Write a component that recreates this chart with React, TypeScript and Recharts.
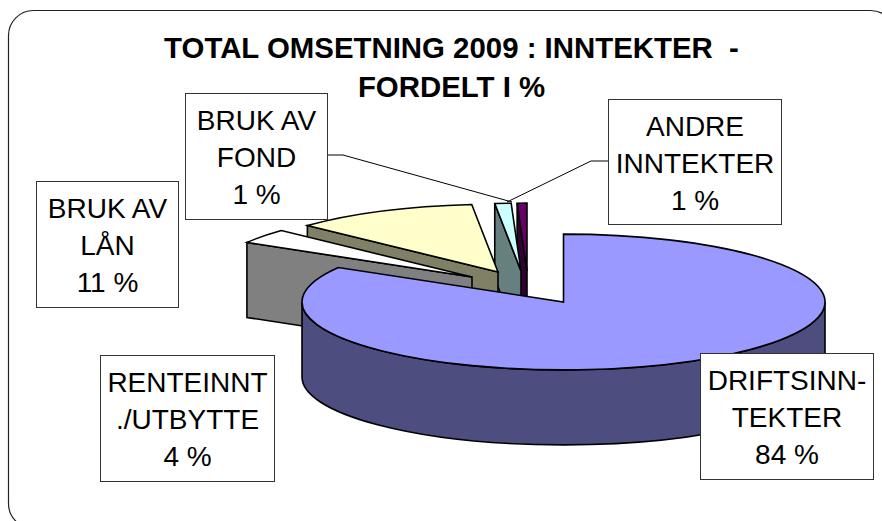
import React from 'react';
import { PieChart, Pie } from 'recharts';

// Drawn back-to-front: the pie runs counter-clockwise from 12 o'clock.
const categories = ['ANDRE INNTEKTER', 'BRUK AV FOND', 'BRUK AV LÅN', 'RENTEINNT ./UTBYTTE', 'DRIFTSINNTEKTER'];
const categoryLines = [
  ['ANDRE', 'INNTEKTER'],
  ['BRUK AV', 'FOND'],
  ['BRUK AV', 'LÅN'],
  ['RENTEINNT', './UTBYTTE'],
  ['DRIFTSINN-', 'TEKTER'],
];
const shares = [0.6, 1.0, 11.4, 3.5, 83.5];
const titleLines = ['TOTAL OMSETNING 2009 : INNTEKTER\u00a0\u00a0-', 'FORDELT I %'];

const tableData = categories.map((name, i) => ({ name, value: shares[i] }));

const topColors = ['#660066', '#CCFFFF', '#FFFFCC', '#FFFFFF', '#9999FF'];
const sideColors = ['#330033', '#668080', '#808066', '#808080', '#4D4D80'];
const explode = [
  [-36.5, -31],
  [-42.5, -31],
  [-65.5, -30],
  [-91.5, -25],
  [0, 0],
];
const labelBoxes = [
  { x: 608.5, y: 99.5, w: 173, h: 125 },
  { x: 185.5, y: 93.5, w: 142, h: 126 },
  { x: 36.5, y: 181.5, w: 142, h: 126 },
  { x: 100.5, y: 355.5, w: 174, h: 126 },
  { x: 700.5, y: 353.5, w: 173, h: 126 },
];
const leaders: (string | null)[] = ['608,161 591,161 507,202', '327,155 343,155 512,202', null, null, null];

const FONT = '"Liberation Sans", Arial, sans-serif';
const RATIO = 68 / 262;
const DEPTH = 75;

function Slice3D(props: any) {
  const { cx, cy, outerRadius, startAngle, endAngle, index } = props;
  const rx = outerRadius;
  const ry = outerRadius * RATIO;
  const ox = cx + explode[index][0];
  const oy = cy + explode[index][1];
  const span = Math.abs(endAngle - startAngle);
  const raw = 90 - Math.max(startAngle, endAngle);
  const a = Math.round((((raw % 360) + 360) % 360) * 1e6) / 1e6 % 360;
  const b = a + span;
  const pt = (c: number, dy = 0): [number, number] => {
    const t = (c * Math.PI) / 180;
    return [ox + rx * Math.sin(t), oy - ry * Math.cos(t) + dy];
  };
  const [sx, sy] = pt(a);
  const [ex, ey] = pt(b);
  const large = span > 180 ? 1 : 0;
  const edge = { stroke: '#000', strokeWidth: 1.6, strokeLinejoin: 'miter' as const };

  const parts: React.ReactNode[] = [];
  const w0 = Math.max(a, 90);
  const w1 = Math.min(b, 270);
  if (w1 > w0) {
    const [p0x, p0y] = pt(w0);
    const [p1x, p1y] = pt(w1);
    parts.push(
      <path
        key="wall"
        d={`M${p0x},${p0y} A${rx},${ry} 0 0 1 ${p1x},${p1y} L${p1x},${p1y + DEPTH} A${rx},${ry} 0 0 0 ${p0x},${p0y + DEPTH} Z`}
        fill={sideColors[index]}
        {...edge}
      />,
    );
  }
  if (a > 180 && a < 360) {
    parts.push(
      <path
        key="face"
        d={`M${ox},${oy} L${sx},${sy} L${sx},${sy + DEPTH} L${ox},${oy + DEPTH} Z`}
        fill={sideColors[index]}
        {...edge}
      />,
    );
  }
  parts.push(
    <path
      key="top"
      d={`M${ox},${oy} L${sx},${sy} A${rx},${ry} 0 ${large} 1 ${ex},${ey} Z`}
      fill={topColors[index]}
      {...edge}
    />,
  );
  return <g>{parts}</g>;
}

function DataLabel(props: any) {
  const { index } = props;
  const box = labelBoxes[index];
  const lines = [...categoryLines[index], `${Math.round(shares[index])} %`];
  const leader = leaders[index];
  return (
    <g>
      {leader && <polyline points={leader} fill="none" stroke="#000" strokeWidth={1} />}
      <rect x={box.x} y={box.y} width={box.w} height={box.h} fill="#fff" stroke="#333" strokeWidth={1} />
      {lines.map((line, i) => (
        <text
          key={i}
          x={box.x + box.w / 2}
          y={box.y + 36 + i * 37}
          textAnchor="middle"
          fontFamily={FONT}
          fontSize={28}
          fill="#000"
        >
          {line}
        </text>
      ))}
    </g>
  );
}

export default function App() {
  return (
    <div style={{ position: 'absolute', left: 0, top: 0, width: 882, height: 521, overflow: 'hidden', background: '#fff' }}>
      <PieChart width={882} height={521} margin={{ top: 0, right: 0, bottom: 0, left: 0 }}>
        <rect x={8.5} y={10.5} width={887} height={518} rx={25} ry={25} fill="#fff" stroke="#222" strokeWidth={1.2} />
        <Pie
          data={tableData}
          dataKey="value"
          nameKey="name"
          cx={563.5}
          cy={302}
          innerRadius={0}
          outerRadius={261.5}
          startAngle={90}
          endAngle={450}
          paddingAngle={0}
          stroke="none"
          isAnimationActive={false}
          shape={Slice3D}
          label={DataLabel}
          labelLine={false}
        />
        {titleLines.map((line, i) => (
          <text
            key={i}
            x={451.5}
            y={58 + i * 39}
            textAnchor="middle"
            fontFamily={FONT}
            fontWeight="bold"
            fontSize={29.4}
            fill="#000"
          >
            {line}
          </text>
        ))}
      </PieChart>
    </div>
  );
}
